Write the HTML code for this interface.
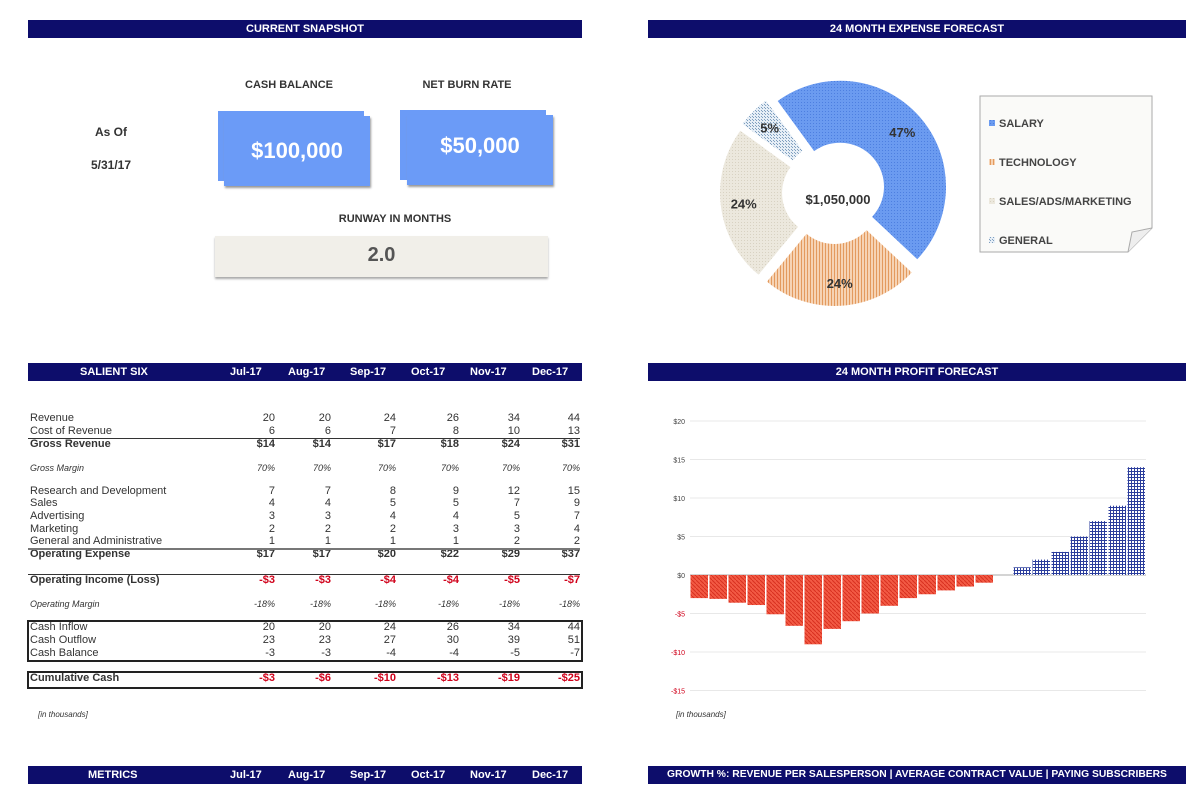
<!DOCTYPE html>
<html><head><meta charset="utf-8">
<style>
body{margin:0;width:1200px;height:795px;background:#fff;font-family:"Liberation Sans",sans-serif;position:relative;overflow:hidden;color:#333}
.abs{position:absolute}
.band{position:absolute;height:18px;background:#0d0d6b;color:#fff;font-weight:bold;font-size:11px;line-height:18px}
.lbl{position:absolute;font-weight:bold;font-size:11px;color:#333;text-align:center}
.row{position:absolute;left:30px;width:550px;height:13px;font-size:11px;line-height:13px;color:#333}
.row span{position:absolute;text-align:right;width:50px}
.b{font-weight:bold}.i{font-style:italic;font-size:9px}.red span.v{color:#d0021b}
</style></head><body>
<div class="band" style="left:28px;top:20px;width:554px;text-align:center">CURRENT SNAPSHOT</div>
<div class="band" style="left:648px;top:20px;width:538px;text-align:center">24 MONTH EXPENSE FORECAST</div>
<div class="lbl" style="left:70px;top:125px;width:82px;font-size:12px">As Of</div>
<div class="lbl" style="left:70px;top:158px;width:82px;font-size:12px">5/31/17</div>
<div class="lbl" style="left:214px;top:79px;width:150px">CASH BALANCE</div>
<div class="lbl" style="left:392px;top:79px;width:150px">NET BURN RATE</div>
<div class="abs" style="left:218px;top:111px;width:146px;height:70px;background:#6b9bf7"></div>
<div class="abs" style="left:224px;top:116px;width:146px;height:70px;background:#6b9bf7;box-shadow:1px 2px 2px #999;color:#fff;font-weight:bold;font-size:22px;line-height:70px;text-align:center">$100,000</div>
<div class="abs" style="left:400px;top:110px;width:146px;height:70px;background:#6b9bf7"></div>
<div class="abs" style="left:407px;top:115px;width:146px;height:70px;background:#6b9bf7;box-shadow:1px 2px 2px #999;color:#fff;font-weight:bold;font-size:22px;line-height:62px;text-align:center">$50,000</div>
<div class="lbl" style="left:300px;top:213px;width:190px">RUNWAY IN MONTHS</div>
<div class="abs" style="left:215px;top:236px;width:333px;height:41px;background:#f1efe9;box-shadow:0 2px 2px #aaa;font-weight:bold;font-size:20px;line-height:38px;text-align:center;color:#555">2.0</div>

<svg class="abs" style="left:0;top:0" width="1200" height="795">
<defs>
<pattern id="pS" width="3" height="3" patternUnits="userSpaceOnUse"><rect width="3" height="3" fill="#6b9bf0"/><rect width="1" height="1" fill="#4d7fe0"/></pattern>
<pattern id="pT" width="3" height="3" patternUnits="userSpaceOnUse"><rect width="3" height="3" fill="#f6d3b4"/><rect width="1" height="3" fill="#e39a5e"/></pattern>
<pattern id="pM" width="3" height="3" patternUnits="userSpaceOnUse"><rect width="3" height="3" fill="#ece8dd"/><rect width="1" height="1" fill="#d8d2c2"/></pattern>
<pattern id="pG" width="3" height="3" patternUnits="userSpaceOnUse"><rect width="3" height="3" fill="#e6eef6"/><rect width="1" height="1" fill="#7f9fbf"/><rect x="2" y="2" width="1" height="1" fill="#7f9fbf"/></pattern>
<pattern id="pR" width="4" height="4" patternUnits="userSpaceOnUse"><rect width="4" height="4" fill="#f25a44"/><path d="M0,0 L4,4" stroke="#d8301f" stroke-width="1"/></pattern>
<pattern id="pB" width="3" height="3" patternUnits="userSpaceOnUse"><rect width="3" height="3" fill="#fff"/><rect width="3" height="1" fill="#2b3d9c"/><rect width="1" height="3" fill="#2b3d9c"/></pattern>
</defs>
<g id="pie"></g>
<g>
<path d="M980,96 L1152,96 L1152,228 L1128,252 L980,252 Z" fill="#fafaf8" stroke="#aaa"/>
<path d="M1128,252 L1132,232 L1152,228" fill="#eee" stroke="#aaa"/>
<rect x="989" y="120" width="6" height="6" fill="url(#pS)"/><text x="999" y="127" font-size="11" font-weight="bold" fill="#444">SALARY</text>
<rect x="989" y="159" width="6" height="6" fill="url(#pT)"/><text x="999" y="166" font-size="11" font-weight="bold" fill="#444">TECHNOLOGY</text>
<rect x="989" y="198" width="6" height="6" fill="url(#pM)"/><text x="999" y="205" font-size="11" font-weight="bold" fill="#444">SALES/ADS/MARKETING</text>
<rect x="989" y="237" width="6" height="6" fill="url(#pG)"/><text x="999" y="244" font-size="11" font-weight="bold" fill="#444">GENERAL</text>
</g>
<text x="838" y="204" text-anchor="middle" font-size="13" font-weight="bold" fill="#333">$1,050,000</text>
<g id="bars"></g>
</svg>

<div class="band" style="left:28px;top:363px;width:554px">
<span class="abs" style="left:52px">SALIENT SIX</span><span class="abs" style="left:202px">Jul-17</span><span class="abs" style="left:260px">Aug-17</span><span class="abs" style="left:322px">Sep-17</span><span class="abs" style="left:383px">Oct-17</span><span class="abs" style="left:442px">Nov-17</span><span class="abs" style="left:504px">Dec-17</span></div>
<div class="band" style="left:648px;top:363px;width:538px;text-align:center">24 MONTH PROFIT FORECAST</div>

<div id="table"></div>
<div class="abs" style="left:28px;top:438px;width:552px;border-top:1px solid #333"></div>
<div class="abs" style="left:28px;top:548px;width:552px;border-top:2px solid #777"></div>
<div class="abs" style="left:28px;top:574px;width:552px;border-top:1px solid #333"></div>
<div class="abs" style="left:27px;top:620px;width:552px;height:38px;border:2px solid #222"></div>
<div class="abs" style="left:27px;top:671px;width:552px;height:14px;border:2px solid #222"></div>
<div class="abs i" style="left:38px;top:710px;font-size:8px">[in thousands]</div>
<div class="abs i" style="left:676px;top:710px;font-size:8px">[in thousands]</div>

<div class="band" style="left:28px;top:766px;width:554px">
<span class="abs" style="left:60px">METRICS</span><span class="abs" style="left:202px">Jul-17</span><span class="abs" style="left:260px">Aug-17</span><span class="abs" style="left:322px">Sep-17</span><span class="abs" style="left:383px">Oct-17</span><span class="abs" style="left:442px">Nov-17</span><span class="abs" style="left:504px">Dec-17</span></div>
<div class="band" style="left:648px;top:766px;width:538px;text-align:center;font-size:10.3px;white-space:nowrap;overflow:hidden">GROWTH %: REVENUE PER SALESPERSON | AVERAGE CONTRACT VALUE | PAYING SUBSCRIBERS</div>

<script>
// ---- pie data ----
const pieCategories=["SALARY","TECHNOLOGY","SALES/ADS/MARKETING","GENERAL"];
const pieValues=[47,24,24,5];
const pieLabels=["47%","24%","24%","5%"];
// ---- profit chart data ----
const profitValues=[-3,-3.1,-3.6,-3.9,-5.1,-6.6,-9,-7,-6,-5,-4,-3,-2.5,-2,-1.5,-1,0,1,2,3,5,7,9,14];
const profitTicks=[20,15,10,5,0,-5,-10,-15];
// ---- table data ----
const tableRows=[
 ["Revenue",[20,20,24,26,34,44],"",419],
 ["Cost of Revenue",[6,6,7,8,10,13],"",432],
 ["Gross Revenue",["$14","$14","$17","$18","$24","$31"],"b",445],
 ["Gross Margin",["70%","70%","70%","70%","70%","70%"],"i",469],
 ["Research and Development",[7,7,8,9,12,15],"",492],
 ["Sales",[4,4,5,5,7,9],"",504],
 ["Advertising",[3,3,4,4,5,7],"",517],
 ["Marketing",[2,2,2,3,3,4],"",530],
 ["General and Administrative",[1,1,1,1,2,2],"",542],
 ["Operating Expense",["$17","$17","$20","$22","$29","$37"],"b",555],
 ["Operating Income (Loss)",["-$3","-$3","-$4","-$4","-$5","-$7"],"b red",581],
 ["Operating Margin",["-18%","-18%","-18%","-18%","-18%","-18%"],"i",605],
 ["Cash Inflow",[20,20,24,26,34,44],"",628],
 ["Cash Outflow",[23,23,27,30,39,51],"",641],
 ["Cash Balance",[-3,-3,-4,-4,-5,-7],"",654],
 ["Cumulative Cash",["-$3","-$6","-$10","-$13","-$19","-$25"],"b red",679]];
const NS="http://www.w3.org/2000/svg";
// pie
const cx=834,cy=192,R=106,r=44,start=-36,explode=8;
let a0=start;const tot=pieValues.reduce((a,b)=>a+b,0);
const fills=["url(#pS)","url(#pT)","url(#pM)","url(#pG)"];
const pie=document.getElementById('pie');
function pt(a,rad,ox,oy){const t=(a-90)*Math.PI/180;return [ox+rad*Math.cos(t),oy+rad*Math.sin(t)];}
pieValues.forEach((v,i)=>{
 const sweep=v/tot*360,a1=a0+sweep,mid=a0+sweep/2;
 const m=(mid-90)*Math.PI/180,ox=cx+explode*Math.cos(m),oy=cy+explode*Math.sin(m);
 const g=sweep>180?1:0;
 const p1=pt(a0,R,ox,oy),p2=pt(a1,R,ox,oy),p3=pt(a1,r,ox,oy),p4=pt(a0,r,ox,oy);
 const p=document.createElementNS(NS,'path');
 p.setAttribute('d',`M${p1} A${R},${R} 0 ${g} 1 ${p2} L${p3} A${r},${r} 0 ${g} 0 ${p4}Z`);
 p.setAttribute('fill',fills[i]);
 
 
 pie.appendChild(p);
 const lp=pt(mid,(R+r)/2+8,ox,oy);
 const t=document.createElementNS(NS,'text');
 t.setAttribute('x',lp[0]);t.setAttribute('y',lp[1]+5);t.setAttribute('text-anchor','middle');
 t.setAttribute('font-size','13');t.setAttribute('font-weight','bold');t.setAttribute('fill','#333');
 
 
 t.textContent=pieLabels[i];pie.appendChild(t);
 a0=a1;});
// bars
const x0=690,x1=1146,yScale=v=>575-v*7.7;
const bw=(x1-x0)/profitValues.length;
const bars=document.getElementById('bars');
profitTicks.forEach(t=>{
 const y=yScale(t);
 const l=document.createElementNS(NS,'line');
 l.setAttribute('x1',x0);l.setAttribute('x2',x1);l.setAttribute('y1',y);l.setAttribute('y2',y);
 l.setAttribute('stroke',t===0?'#aaa':'#e8e8e8');
 
 
 bars.appendChild(l);
 const tx=document.createElementNS(NS,'text');
 tx.setAttribute('x',685);tx.setAttribute('y',y+3);tx.setAttribute('text-anchor','end');
 tx.setAttribute('font-size','7');tx.setAttribute('fill',t<0?'#d0021b':'#444');
 
 
 tx.textContent=(t<0?'-$':'$')+Math.abs(t);bars.appendChild(tx);});
profitValues.forEach((v,i)=>{
 if(v===0)return;
 const rc=document.createElementNS(NS,'rect');
 const y=Math.min(yScale(v),yScale(0)),h=Math.abs(yScale(v)-yScale(0));
 rc.setAttribute('x',x0+i*bw+0.5);rc.setAttribute('width',bw-1.5);rc.setAttribute('y',y);rc.setAttribute('height',h);
 rc.setAttribute('fill',v<0?'url(#pR)':'url(#pB)');
 
 
 bars.appendChild(rc);});
// table
const rights=[275,331,396,459,520,580];
const tb=document.getElementById('table');
tableRows.forEach(rw=>{
 const d=document.createElement('div');d.className='row '+rw[2];d.style.top=(rw[3]-7)+'px';
 
 
 let h='<span style="left:0;text-align:left;width:260px">'+rw[0]+'</span>';
 rw[1].forEach((v,k)=>{h+='<span class="v" style="left:'+(rights[k]-30-50)+'px">'+v+'</span>';});
 d.innerHTML=h;tb.appendChild(d);});
</script>
</body></html>
